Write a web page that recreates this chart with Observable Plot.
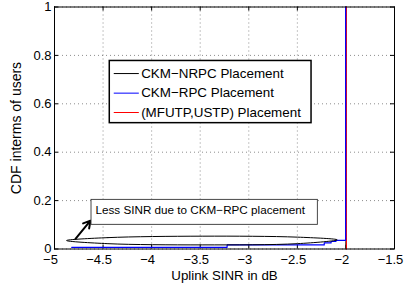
<!DOCTYPE html>
<html><head><meta charset="utf-8">
<script src="https://cdn.jsdelivr.net/npm/d3@7"></script>
<script src="https://cdn.jsdelivr.net/npm/@observablehq/plot@0.6"></script>
<style>body{margin:0;background:#fff} svg{display:block}</style>
</head><body><div id="chart"></div>
<script>
const xTicks = [-5, -4.5, -4, -3.5, -3, -2.5, -2, -1.5];
const yTicks = [0, 0.2, 0.4, 0.6, 0.8, 1];
// CKM-RPC staircase CDF (step-after)
const rpcX = [-4.82, -3.22, -2.22, -2.15, -2.1, -2.0, -2.0];
const rpcY = [0.007, 0.017, 0.025, 0.031, 0.036, 0.036, 1];
// CKM-NRPC and (MFUTP,USTP) jump at -2 dB
const nrpcX = [-2.0, -2.0];
const nrpcY = [0, 1];
const mfuX = [-2.0, -2.0];
const mfuY = [0, 1];
const seriesNames = ["CKM\u2212NRPC Placement", "CKM\u2212RPC Placement", "(MFUTP,USTP) Placement"];
const seriesColors = ["#000000", "#0000ff", "#ff0000"];
const xLabel = "Uplink SINR in dB";
const yLabel = "CDF interms of users";
// annotation
const noteText = "Less SINR due to CKM\u2212RPC placement";
const ellipseX = [-4.876, -4.45, -3.48, -2.5, -2.09, -2.5, -3.48, -4.45];
const ellipseY = [0.035, 0.047, 0.053, 0.049, 0.038, 0.022, 0.017, 0.022];

const W = 404, H = 287, mL = 54, mR = 10, mT = 6.5, mB = 38.5;
const fw = W - mL - mR, fh = H - mT - mB;
const pts = (xs, ys) => xs.map((x, i) => ({x, y: ys[i]}));
const legendRows = [0.725, 0.644, 0.564];
const legend = seriesNames.map((n, i) => ({n, c: seriesColors[i], y: legendRows[i]}));
const fmtX = d => String(d).replace("-", "\u2212");
const FONT = "'Liberation Sans', Arial, Helvetica, sans-serif";

const plot = Plot.plot({
  width: W, height: H,
  marginLeft: mL, marginRight: mR, marginTop: mT, marginBottom: mB,
  x: {domain: [-5, -1.5]},
  y: {domain: [0, 1]},
  style: {fontFamily: FONT, fontSize: "13px", color: "#000", background: "#fff"},
  marks: [
    Plot.gridX(xTicks, {stroke: "#000", strokeOpacity: 0.45, strokeDasharray: "1,3"}),
    Plot.gridY(yTicks, {stroke: "#000", strokeOpacity: 0.45, strokeDasharray: "1,3"}),
    Plot.axisX(xTicks, {tickSize: 0, tickPadding: 6, tickFormat: fmtX, fontSize: 13, dx: -4, label: null}),
    Plot.axisY(yTicks, {tickSize: 0, tickPadding: 3, tickFormat: d => String(d), fontSize: 13, label: null}),
    Plot.text([xLabel], {text: d => d, frameAnchor: "bottom", textAnchor: "middle", lineAnchor: "middle", dy: 27, fontSize: 13.3, fill: "#000"}),
    Plot.text([yLabel], {text: d => d, frameAnchor: "left", textAnchor: "middle", lineAnchor: "middle", rotate: -90, dx: -38, fontSize: 14, fill: "#000"}),
    Plot.ruleX(xTicks, {x: d => d, insetTop: fh - 4, stroke: "#000"}),
    Plot.ruleX(xTicks, {x: d => d, insetBottom: fh - 4, stroke: "#000"}),
    Plot.ruleY(yTicks, {y: d => d, insetLeft: fw - 4, stroke: "#000"}),
    Plot.ruleY(yTicks, {y: d => d, insetRight: fw - 4, stroke: "#000"}),
    // data lines
    Plot.line(pts(nrpcX, nrpcY), {x: "x", y: "y", stroke: seriesColors[0], strokeWidth: 1}),
    Plot.line(pts(mfuX, mfuY), {x: "x", y: "y", stroke: seriesColors[2], strokeWidth: 1, dx: 0.5}),
    Plot.line(pts(rpcX, rpcY), {x: "x", y: "y", stroke: seriesColors[1], strokeWidth: 1.2, curve: "step-after", dx: -0.3}),
    // annotation ellipse + arrow + box
    Plot.line(pts(ellipseX, ellipseY), {x: "x", y: "y", stroke: "#000", strokeWidth: 1, curve: "catmull-rom-closed"}),
    Plot.arrow([{x1: -4.784, y1: 0.042, x2: -4.63, y2: 0.117}], {x1: "x1", y1: "y1", x2: "x2", y2: "y2", stroke: "#000", strokeWidth: 2, headLength: 7}),
    Plot.rect([{x1: -4.619, x2: -2.289, y1: 0.0998, y2: 0.203}], {x1: "x1", x2: "x2", y1: "y1", y2: "y2", fill: "#fff", stroke: "#333", strokeWidth: 0.9}),
    Plot.text([noteText], {x: -4.578, y: 0.161, text: d => d, textAnchor: "start", fontSize: 11.7, fill: "#000"}),
    // legend
    Plot.rect([{x1: -4.431, x2: -2.354, y1: 0.520, y2: 0.777}], {x1: "x1", x2: "x2", y1: "y1", y2: "y2", fill: "#fff", stroke: "#000", strokeWidth: 1.5}),
    Plot.link(legend, {x1: -4.39, x2: -4.132, y1: "y", y2: "y", stroke: "c", strokeWidth: 1}),
    Plot.text(legend, {x: -4.108, y: "y", text: "n", textAnchor: "start", fontSize: 13.4, fill: "#000"}),
    Plot.frame({stroke: "#000", strokeWidth: 1})
  ]
});
document.getElementById("chart").append(plot);
</script>
</body></html>
